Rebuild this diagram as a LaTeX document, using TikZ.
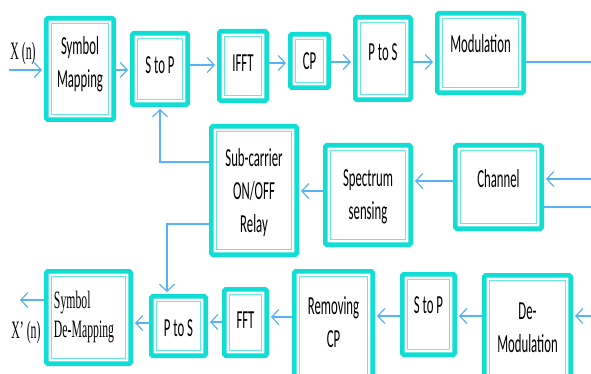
\documentclass[tikz,border=0pt]{standalone}
\usepackage{fontspec}
\newfontfamily\boxfont[FakeStretch=0.49]{Carlito}
\newfontfamily\serfont[FakeStretch=0.47]{Liberation Serif}
\usetikzlibrary{arrows.meta}
\definecolor{boxcyan}{RGB}{16,222,212}
\definecolor{linkblue}{RGB}{88,178,246}

\begin{document}
\begin{tikzpicture}[x=1pt,y=-1pt,
    link/.style={draw=linkblue,line width=1.4pt},
    arr/.style={link,shorten >=2pt,-{Straight Barb[length=7pt,width=15pt,line width=1.2pt]}},
    blk/.style 2 args={draw=boxcyan,line width=4.6pt,rounded corners=1.5pt,
      minimum width=#1pt,minimum height=#2pt,inner sep=0pt,
      path picture={\draw[boxcyan!65,line width=1.3pt,sharp corners]
        ([shift={(5.2pt,5.2pt)}]path picture bounding box.south west) rectangle
        ([shift={(-5.2pt,-5.2pt)}]path picture bounding box.north east);}},
    txt/.style={font=\boxfont\fontsize{26}{33}\selectfont,align=center,inner sep=0pt},
    sertxt/.style={font=\serfont\fontsize{25}{29}\selectfont,inner sep=0pt}]

  \path[use as bounding box,clip] (0,0) rectangle (591,374);

  % transmitter
  \node[blk={67.4}{101.4},label={[txt,yshift=5pt]center:{Symbol\\Mapping}}] (symmap) at (80,69) {};
  \node[blk={55.4}{71.4},label={[txt,yshift=4pt]center:S to P}] (stop1) at (160,69) {};
  \node[blk={47.4}{69.4},label={[txt,yshift=3pt]center:IFFT}] (ifft) at (243,66) {};
  \node[blk={38.4}{53.4},label={[txt]center:CP}] (cp) at (309.5,61) {};
  \node[blk={55.4}{82.4},label={[txt,yshift=6.5pt]center:P to S}] (ptos1) at (383,58.5) {};
  \node[blk={86.4}{79.4},label={[txt,yshift=9pt]center:Modulation}] (mod) at (480.5,53) {};

  % relay
  \node[blk={85.4}{128.4},label={[txt,yshift=-2.5pt]center:{Sub-carrier\\ON/OFF\\Relay}}] (relay) at (254,190.5) {};
  \node[blk={85.4}{99.4},label={[txt,yshift=-2pt]center:{Spectrum\\sensing}}] (sense) at (368,195) {};
  \node[blk={86.4}{83.4},label={[txt,yshift=8pt]center:Channel}] (chan) at (498.5,187) {};

  % receiver
  \node[blk={84.4}{92.4},label={[sertxt,align=left,xshift=-4.5pt]center:{Symbol\\De-Mapping}}] (demap) at (88.5,317.5) {};
  \node[blk={54.4}{59.4},label={[txt,yshift=-2pt]center:P to S}] (ptos2) at (178.5,326) {};
  \node[blk={42.4}{66.4},label={[txt,yshift=2.5pt]center:FFT}] (fft) at (245.5,322.5) {};
  \node[blk={78.4}{108.4},label={[txt,yshift=3.5pt]center:{Removing\\CP}}] (remcp) at (333.5,325.5) {};
  \node[blk={52.4}{80.4},label={[txt,yshift=9.5pt]center:S to P}] (stop2) at (428.5,314.5) {};
  \node[blk={86.4}{107.4},label={[txt,yshift=1.5pt]center:{De-\\Modulation}}] (demod) at (527.5,329) {};

  \node[sertxt,anchor=base] (xn) at (23,60) {X (n)};
  \node[sertxt,anchor=base] (xpn) at (26,338) {X’ (n)};

  \coordinate (xin) at (9,70);
  \coordinate (xout) at (18,300);
  \coordinate (mout) at (591,62);
  \coordinate (chin) at (591,179);
  \coordinate (chout) at (591,207);
  \coordinate (dmin) at (591,316);
  \coordinate (dn) at (167,224);

  \draw[arr] (xin) -- (xin -| symmap.west);
  \draw[arr] (symmap.east |- 0,70) -- (stop1.west |- 0,70);
  \draw[arr] (stop1.east |- 0,65) -- (ifft.west |- 0,65);
  \draw[arr] (ifft.east |- 0,63) -- (cp.west |- 0,63);
  \draw[arr] (cp.east |- 0,62) -- (ptos1.west |- 0,62);
  \draw[arr] (ptos1.east |- 0,62) -- (mod.west |- 0,62);
  \draw[link] (mod.east |- mout) -- (mout);

  \draw[arr] (chin) -- (chan.east |- chin);
  \draw[link] (chan.east |- chout) -- (chout);
  \draw[arr] (chan.west |- 0,181) -- (sense.east |- 0,181);
  \draw[arr] (sense.west |- 0,191) -- (relay.east |- 0,191);
  \draw[arr] (relay.west |- 0,162) -| (stop1.south);
  \draw[arr] (relay.west |- dn) -- (dn) -- (dn |- ptos2.north);

  \draw[arr] (dmin) -- (demod.east |- dmin);
  \draw[arr] (demod.west |- 0,316) -- (stop2.east |- 0,316);
  \draw[arr] (stop2.west |- 0,316) -- (remcp.east |- 0,316);
  \draw[arr] (remcp.west |- 0,317) -- (fft.east |- 0,317);
  \draw[arr] (fft.west |- 0,322) -- (ptos2.east |- 0,322);
  \draw[arr] (ptos2.west |- 0,323) -- (demap.east |- 0,323);
  \draw[arr] (demap.west |- xout) -- (xout);
\end{tikzpicture}
\end{document}
